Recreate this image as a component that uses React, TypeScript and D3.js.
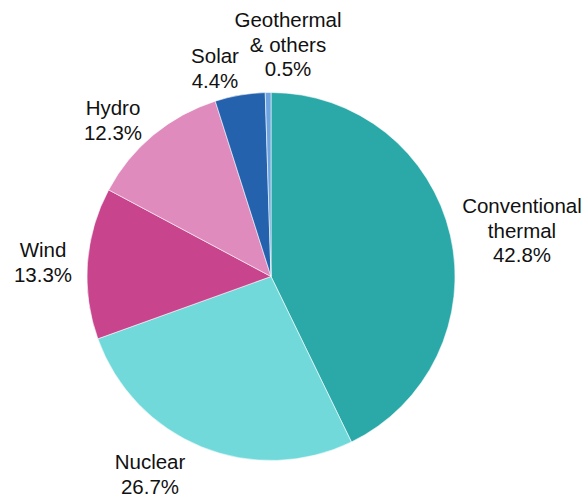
import React from "react";
import * as d3 from "d3";

// Electricity generation mix by source (share of total, %)
const sources = ["Conventional thermal", "Nuclear", "Wind", "Hydro", "Solar", "Geothermal & others"];
const shares = [42.8, 26.7, 13.3, 12.3, 4.4, 0.5];
const labelLines = [
  ["Conventional", "thermal", "42.8%"],
  ["Nuclear", "26.7%"],
  ["Wind", "13.3%"],
  ["Hydro", "12.3%"],
  ["Solar", "4.4%"],
  ["Geothermal", "& others", "0.5%"],
];
const colors = ["#2ba8a8", "#71d9da", "#c8448d", "#e08bbd", "#2462ad", "#6ea3e2"];

const W = 587;
const H = 497;
const cx = 271;
const cy = 276.5;
const radius = 184;
const lineHeight = 24.5;

// Label anchor points (centre x, first baseline y) for each slice
const labelAnchors: [number, number][] = [
  [522, 213],
  [150, 469],
  [43, 257],
  [113, 115],
  [215, 63],
  [288, 27],
];

export default function App() {
  const pie = d3
    .pie<number>()
    .value((d) => d)
    .sort(null);
  const arcs = pie(shares);
  const arc = d3
    .arc<d3.PieArcDatum<number>>()
    .innerRadius(0)
    .outerRadius(radius);

  return (
    <svg width={W} height={H} style={{ display: "block", position: "absolute", left: 0, top: 0 }}>
      <rect width={W} height={H} fill="#ffffff" />
      <g transform={`translate(${cx},${cy})`}>
        {arcs.map((a, i) => (
          <path key={sources[i]} d={arc(a) || ""} fill={colors[i]} stroke="#ffffff" strokeWidth={0.8} strokeOpacity={0.7} />
        ))}
      </g>
      {labelLines.map((lines, i) => (
        <text
          key={sources[i]}
          x={labelAnchors[i][0]}
          y={labelAnchors[i][1]}
          textAnchor="middle"
          fontFamily="'Liberation Sans', Arial, sans-serif"
          fontSize={20.5}
          fill="#111111"
        >
          {lines.map((ln, j) => (
            <tspan key={j} x={labelAnchors[i][0]} dy={j === 0 ? 0 : lineHeight}>
              {ln}
            </tspan>
          ))}
        </text>
      ))}
    </svg>
  );
}
